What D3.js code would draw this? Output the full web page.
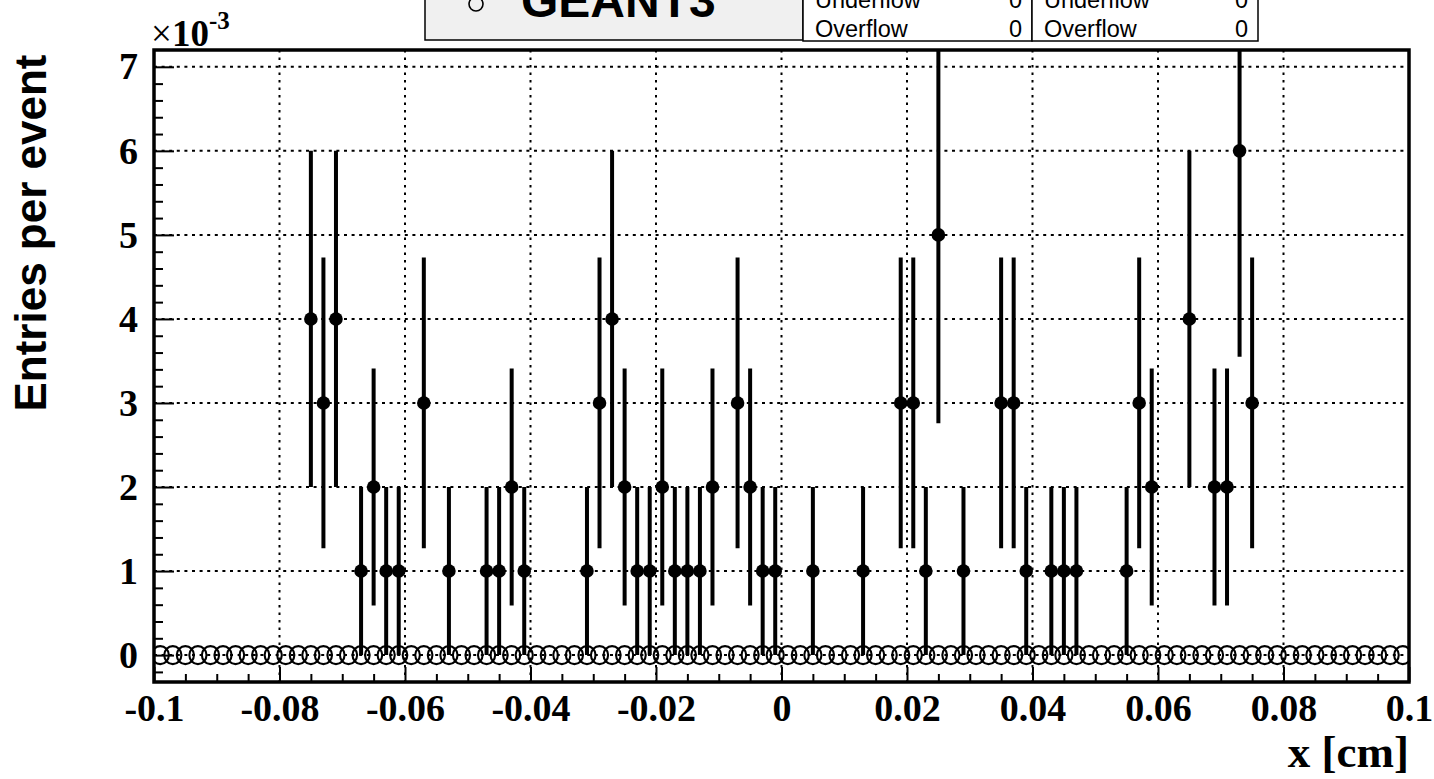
<!DOCTYPE html>
<html>
<head>
<meta charset="utf-8">
<script src="https://cdn.jsdelivr.net/npm/d3@7"></script>
<style>
  html, body { margin: 0; padding: 0; background: #fff; }
  svg { display: block; }
</style>
</head>
<body>
<svg id="chart" width="1434" height="779"></svg>
<script>
// ---------------- DATA ----------------
// Data histogram (filled points), bin centers in cm, values in units of 1e-3 entries/event
const dataX = [-0.075,-0.073,-0.071,-0.067,-0.065,-0.063,-0.061,-0.057,-0.053,-0.047,-0.045,-0.043,-0.041,
  -0.031,-0.029,-0.027,-0.025,-0.023,-0.021,-0.019,-0.017,-0.015,-0.013,-0.011,-0.007,-0.005,-0.003,-0.001,
  0.005,0.013,0.019,0.021,0.023,0.025,0.029,0.035,0.037,0.039,0.043,0.045,0.047,0.055,0.057,0.059,
  0.065,0.069,0.071,0.073,0.075];
const dataY = [4,3,4,1,2,1,1,3,1,1,1,2,1,
  1,3,4,2,1,1,2,1,1,1,2,3,2,1,1,
  1,1,3,3,1,5,1,3,3,1,1,1,1,1,3,2,
  4,2,2,6,3];
const dataErr = [2,1.73,2,1,1.41,1,1,1.73,1,1,1,1.41,1,
  1,1.73,2,1.41,1,1,1.41,1,1,1,1.41,1.73,1.41,1,1,
  1,1,1.73,1.73,1,2.24,1,1.73,1.73,1,1,1,1,1,1.73,1.41,
  2,1.41,1.41,2.45,1.73];

// GEANT3 histogram (open circles): 100 bins over [-0.1, 0.1], all zero
const geantValues = [
  0,0,0,0,0,0,0,0,0,0,0,0,0,0,0,0,0,0,0,0,
  0,0,0,0,0,0,0,0,0,0,0,0,0,0,0,0,0,0,0,0,
  0,0,0,0,0,0,0,0,0,0,0,0,0,0,0,0,0,0,0,0,
  0,0,0,0,0,0,0,0,0,0,0,0,0,0,0,0,0,0,0,0,
  0,0,0,0,0,0,0,0,0,0,0,0,0,0,0,0,0,0,0,0];
const xMin = -0.1, xMax = 0.1;

const xTicks = [-0.1,-0.08,-0.06,-0.04,-0.02,0,0.02,0.04,0.06,0.08,0.1];
const xTickLabels = ["-0.1","-0.08","-0.06","-0.04","-0.02","0","0.02","0.04","0.06","0.08","0.1"];
const yTicks = [0,1,2,3,4,5,6,7];
const yTickLabels = ["0","1","2","3","4","5","6","7"];

const legendLabel = "GEANT3";
const statNames = ["Underflow","Overflow"];
const statsLeft = ["0","0"];
const statsRight = ["0","0"];

// ---------------- LAYOUT ----------------
const svg = d3.select("#chart");
const W = 1434, H = 779;
const frame = {left: 154, right: 1409, top: 50, bottom: 682};

const x = d3.scaleLinear().domain([xMin, xMax]).range([frame.left, frame.right]);
const y = d3.scaleLinear().domain([-0.32, 7.2]).range([frame.bottom, frame.top]);

svg.append("rect").attr("width", W).attr("height", H).attr("fill", "#fff");

const defs = svg.append("defs");
defs.append("clipPath").attr("id", "plotclip")
  .append("rect")
  .attr("x", frame.left).attr("y", frame.top)
  .attr("width", frame.right - frame.left).attr("height", frame.bottom - frame.top);

// grid
const grid = svg.append("g").attr("class", "grid");
grid.selectAll("line.gx").data(xTicks.slice(1, -1)).join("line")
  .attr("x1", d => x(d)).attr("x2", d => x(d))
  .attr("y1", frame.top).attr("y2", frame.bottom)
  .attr("stroke", "#000").attr("stroke-width", 2).attr("stroke-dasharray", "2.5,5");
grid.selectAll("line.gy").data(yTicks).join("line")
  .attr("x1", frame.left).attr("x2", frame.right)
  .attr("y1", d => y(d)).attr("y2", d => y(d))
  .attr("stroke", "#000").attr("stroke-width", 2).attr("stroke-dasharray", "3,4.6");

const plot = svg.append("g").attr("clip-path", "url(#plotclip)");

// GEANT3 open circles
const binW = (xMax - xMin) / geantValues.length;
plot.append("g").selectAll("ellipse").data(geantValues).join("ellipse")
  .attr("cx", (d, i) => x(xMin + (i + 0.5) * binW))
  .attr("cy", d => y(d))
  .attr("rx", 8.6).attr("ry", 9)
  .attr("fill", "none").attr("stroke", "#000").attr("stroke-width", 2.1);

// data error bars
plot.append("g").selectAll("line").data(dataX).join("line")
  .attr("x1", d => x(d)).attr("x2", d => x(d))
  .attr("y1", (d, i) => y(dataY[i] - dataErr[i]))
  .attr("y2", (d, i) => y(dataY[i] + dataErr[i]))
  .attr("stroke", "#000").attr("stroke-width", 4);

// data markers
plot.append("g").selectAll("circle").data(dataX).join("circle")
  .attr("cx", d => x(d))
  .attr("cy", (d, i) => y(dataY[i]))
  .attr("r", 6.8)
  .attr("fill", "#000");

// axes
const xAxisMajor = d3.axisBottom(x).tickValues(xTicks)
  .tickFormat((d, i) => xTickLabels[i]).tickSizeInner(-15).tickSizeOuter(0).tickPadding(12);
const xMinor = d3.range(0, 41).map(i => xMin + i * 0.005).filter(v => !xTicks.some(t => Math.abs(t - v) < 1e-9));
const xAxisMinor = d3.axisBottom(x).tickValues(xMinor).tickFormat("").tickSizeInner(-8).tickSizeOuter(0);

svg.append("g").attr("class", "ax").attr("transform", `translate(0,${frame.bottom})`).call(xAxisMajor);
svg.append("g").attr("transform", `translate(0,${frame.bottom})`).call(xAxisMinor);

const yAxisMajor = d3.axisLeft(y).tickValues(yTicks)
  .tickFormat((d, i) => yTickLabels[i]).tickSizeInner(-20).tickSizeOuter(0).tickPadding(16);
const yMinor = d3.range(-1, 36).map(i => i * 0.2).filter(v => v > -0.32 && v < 7.2 && !yTicks.some(t => Math.abs(t - v) < 1e-9));
const yAxisMinor = d3.axisLeft(y).tickValues(yMinor).tickFormat("").tickSizeInner(-9).tickSizeOuter(0);

svg.append("g").attr("class", "ax").attr("transform", `translate(${frame.left},0)`).call(yAxisMajor);
svg.append("g").attr("transform", `translate(${frame.left},0)`).call(yAxisMinor);

svg.selectAll(".domain").remove();
svg.selectAll(".tick line").attr("stroke", "#000").attr("stroke-width", 2);
svg.selectAll(".tick text")
  .attr("fill", "#000")
  .style("font-family", "'Liberation Serif', 'Times New Roman', serif")
  .style("font-weight", "bold")
  .style("font-size", "38px");

// frame
svg.append("rect")
  .attr("x", frame.left).attr("y", frame.top)
  .attr("width", frame.right - frame.left).attr("height", frame.bottom - frame.top)
  .attr("fill", "none").attr("stroke", "#000").attr("stroke-width", 3.5);

// exponent
const expo = svg.append("text")
  .attr("x", 151).attr("y", 46)
  .style("font-family", "'Liberation Serif', 'Times New Roman', serif")
  .style("font-weight", "bold").style("font-size", "37px").attr("fill", "#000");
expo.append("tspan").style("font-weight", "normal").text("\u00d7");
expo.append("tspan").text("10");
expo.append("tspan").attr("dy", -17).style("font-size", "25px").text("-3");

// axis titles
svg.append("text")
  .attr("transform", `translate(46, ${233}) rotate(-90)`)
  .attr("text-anchor", "middle")
  .style("font-family", "'Liberation Sans', Arial, sans-serif")
  .style("font-weight", "bold").style("font-size", "44px")
  .attr("fill", "#000")
  .text("Entries per event");

svg.append("text")
  .attr("x", frame.right).attr("y", 767)
  .attr("text-anchor", "end")
  .style("font-family", "'Liberation Serif', 'Times New Roman', serif")
  .style("font-weight", "bold").style("font-size", "45px")
  .attr("fill", "#000")
  .text("x [cm]");

// legend box
const leg = svg.append("g");
leg.append("rect").attr("x", 425).attr("y", -10).attr("width", 378).attr("height", 50)
  .attr("fill", "#f0f0f0").attr("stroke", "#000").attr("stroke-width", 1.5);
leg.append("circle").attr("cx", 476).attr("cy", 4).attr("r", 7)
  .attr("fill", "none").attr("stroke", "#000").attr("stroke-width", 1.6);
leg.append("text").attr("x", 521).attr("y", 17)
  .style("font-family", "'Liberation Sans', Arial, sans-serif")
  .style("font-weight", "bold").style("font-size", "48px").attr("fill", "#000")
  .text(legendLabel);

// stats boxes
const statBoxes = [
  {x0: 803, x1: 1032, vals: statsLeft},
  {x0: 1032, x1: 1258, vals: statsRight}
];
statBoxes.forEach(b => {
  const g = svg.append("g");
  g.append("rect").attr("x", b.x0).attr("y", -10).attr("width", b.x1 - b.x0).attr("height", 51)
    .attr("fill", "#fff").attr("stroke", "#000").attr("stroke-width", 1.5);
  statNames.forEach((n, i) => {
    g.append("text").attr("x", b.x0 + 12).attr("y", 8 + i * 29)
      .style("font-family", "'Liberation Sans', Arial, sans-serif")
      .style("font-size", "23.5px").attr("fill", "#000").text(n);
    g.append("text").attr("x", b.x1 - 10).attr("y", 8 + i * 29)
      .attr("text-anchor", "end")
      .style("font-family", "'Liberation Sans', Arial, sans-serif")
      .style("font-size", "23.5px").attr("fill", "#000").text(b.vals[i]);
  });
});
</script>
</body>
</html>
